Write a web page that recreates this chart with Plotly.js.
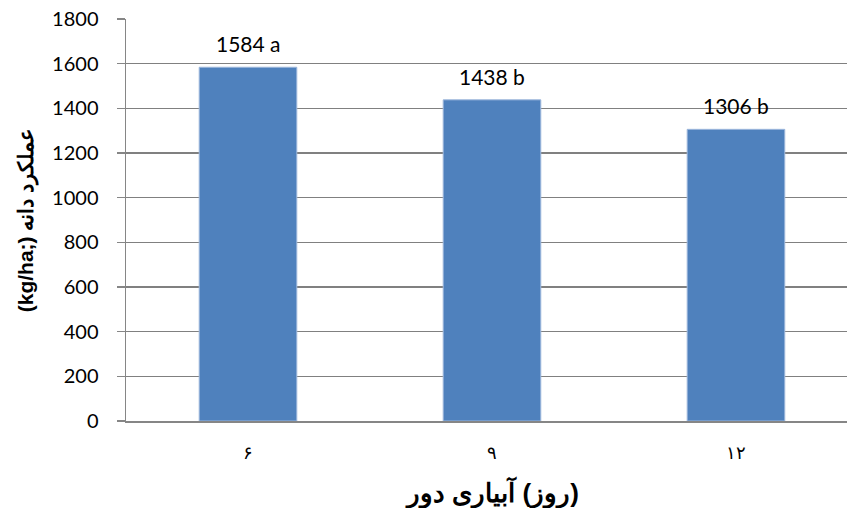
<!DOCTYPE html>
<html>
<head>
<meta charset="utf-8">
<script src="https://cdn.plot.ly/plotly-3.0.1.min.js"></script>
<style>html,body{margin:0;padding:0;background:#fff;}#chart{width:847px;height:508px;}</style>
</head>
<body>
<div id="chart"></div>
<script>
// Data
const categories = ['۶', '۹', '۱۲'];
const yields = [1584, 1438, 1306];
const letters = ['a', 'b', 'b'];
const yTickVals = [0, 200, 400, 600, 800, 1000, 1200, 1400, 1600, 1800];

const LRM = '\u200E';
const xTitle = LRM + 'دور' + LRM + ' ' + LRM + 'آبیاری' + LRM + ' ' + LRM + '(روز)' + LRM;
const yTitle = '(kg/ha;) عملکرد دانه';

const trace = {
  type: 'bar',
  x: categories,
  y: yields,
  width: 0.4,
  marker: {color: '#4F81BD', line: {color: '#9DB7DC', width: 1}},
  hoverinfo: 'none'
};

const annotations = categories.map((c, i) => ({
  x: c, y: yields[i], xref: 'x', yref: 'y',
  text: yields[i] + ' ' + letters[i],
  showarrow: false, yanchor: 'bottom', yshift: 9,
  font: {family: 'Lato, "Liberation Sans", sans-serif', size: 21, color: '#000'}
}));
annotations.push({
  x: categories[1], xref: 'x', y: 0, yref: 'paper', yshift: -71, yanchor: 'middle',
  text: xTitle, showarrow: false,
  font: {family: '"Liberation Sans", Arial, sans-serif', size: 26, color: '#000', weight: 'bold'}
});

const layout = {
  width: 847, height: 508,
  margin: {l: 126, r: 0, t: 19, b: 87},
  paper_bgcolor: '#fff', plot_bgcolor: '#fff',
  showlegend: false,
  xaxis: {
    type: 'category',
    range: [-0.5, 2.455],
    showline: true, linecolor: '#868686', linewidth: 2,
    ticks: '', showgrid: false, zeroline: false,
    tickfont: {family: '"Liberation Sans", Arial, sans-serif', size: 18, color: '#000'},
    ticklabelstandoff: 14
  },
  yaxis: {
    range: [0, 1800],
    tickvals: yTickVals,
    ticktext: yTickVals.map(String),
    showline: true, linecolor: '#868686', linewidth: 1.5,
    ticks: 'outside', ticklen: 8, tickcolor: '#868686', tickwidth: 1.5,
    showgrid: true, gridcolor: '#808080', gridwidth: 1.2,
    zeroline: false,
    ticklabelstandoff: 14,
    tickfont: {family: 'Lato, "Liberation Sans", sans-serif', size: 20, color: '#000'},
    title: {text: yTitle, standoff: 12,
      font: {family: '"Liberation Sans", Arial, sans-serif', size: 21, color: '#000', weight: 'bold'}}
  },
  annotations: annotations
};

Plotly.newPlot('chart', [trace], layout, {staticPlot: true, displayModeBar: false});
</script>
</body>
</html>
